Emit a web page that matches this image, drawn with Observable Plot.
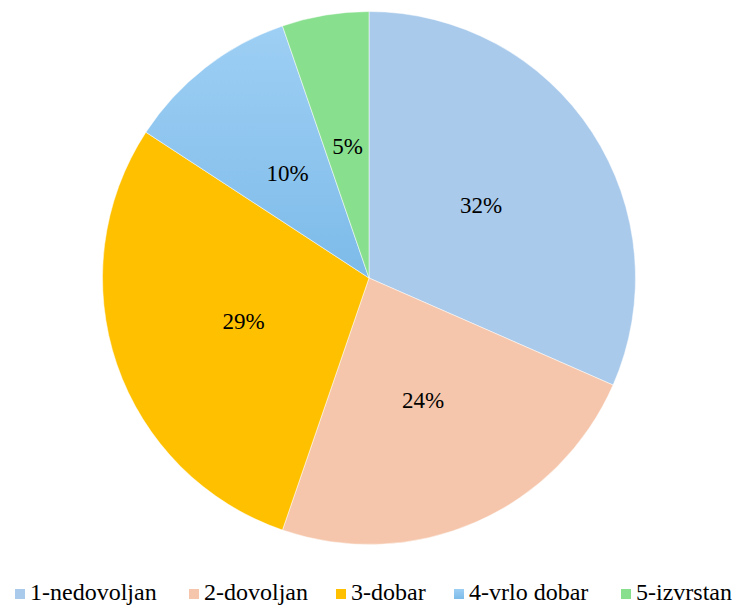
<!DOCTYPE html>
<html>
<head>
<meta charset="utf-8">
<script src="https://cdn.jsdelivr.net/npm/d3@7"></script>
<script src="https://cdn.jsdelivr.net/npm/@observablehq/plot@0.6"></script>
<style>
  body { margin: 0; }
  #chart { width: 734px; height: 575px; }
  #legend { position: relative; width: 734px; height: 33px; font-size: 24px; color: #000; font-family: 'Times New Roman'; }
  .item { position: absolute; top: 0; height: 38px; display: flex; align-items: center; white-space: nowrap; }
  .sw { width: 10px; height: 10px; margin-right: 5px; flex: none; }
  .item span { position: relative; top: -2px; }
</style>
</head>
<body>
<div id="chart"></div>
<div id="legend"></div>
<script>
const categories = ["1-nedovoljan", "2-dovoljan", "3-dobar", "4-vrlo dobar", "5-izvrstan"];
const counts = [12, 9, 11, 4, 2];
const labels = ["32%", "24%", "29%", "10%", "5%"];
const colors = ["#A9CAEB", "#F5C6AB", "#FFC000", "url(#grad4)", "#88E08F"];
const legendX = [15, 189, 336, 454, 621];

const W = 734, H = 575;
const cx = 369, cy = 278, R = 266.5;

const arcs = d3.pie().sort(null).value(d => d)(counts);
const sliceData = arcs.map((a, i) => ({
  category: categories[i],
  label: labels[i],
  start: a.startAngle,
  end: a.endAngle,
  mid: (a.startAngle + a.endAngle) / 2,
  color: colors[i]
}));
const labelData = sliceData.map(d => ({
  text: d.label,
  x: 0.5 * Math.sin(d.mid),
  y: 0.5 * Math.cos(d.mid)
}));

function pieMark(index, scales) {
  const sx = scales.x, sy = scales.y;
  const x0 = sx(0), y0 = sy(0), r = sx(1) - sx(0);
  const g = d3.create("svg:g");
  const grad = g.append("defs").append("linearGradient")
    .attr("id", "grad4").attr("x1", 0).attr("y1", 0).attr("x2", 0).attr("y2", 1);
  grad.append("stop").attr("offset", "0%").attr("stop-color", "#9ECFF4");
  grad.append("stop").attr("offset", "100%").attr("stop-color", "#7DBBE9");
  const arc = d3.arc().innerRadius(0).outerRadius(r);
  g.attr("transform", `translate(${x0},${y0})`)
    .selectAll("path")
    .data(sliceData)
    .join("path")
    .attr("d", d => arc({startAngle: d.start, endAngle: d.end}))
    .attr("fill", d => d.color)
    .attr("stroke", "#fff")
    .attr("stroke-width", 0.5);
  return g.node();
}

const plot = Plot.plot({
  width: W,
  height: H,
  margin: 0,
  x: {domain: [-1, 1], range: [cx - R, cx + R], axis: null},
  y: {domain: [-1, 1], range: [cy + R, cy - R], axis: null},
  marks: [
    pieMark,
    Plot.text(labelData, {
      x: "x", y: "y", text: "text",
      fontSize: 23,
      fontFamily: "Times New Roman",
      fill: "#000"
    })
  ]
});
document.getElementById("chart").appendChild(plot);

const legend = d3.select("#legend");
categories.forEach((c, i) => {
  const it = legend.append("div").attr("class", "item").style("left", legendX[i] + "px");
  it.append("div").attr("class", "sw")
    .style("background", i === 3 ? "linear-gradient(#9ECFF4, #7DBBE9)" : colors[i]);
  it.append("span").text(c);
});
</script>
</body>
</html>
